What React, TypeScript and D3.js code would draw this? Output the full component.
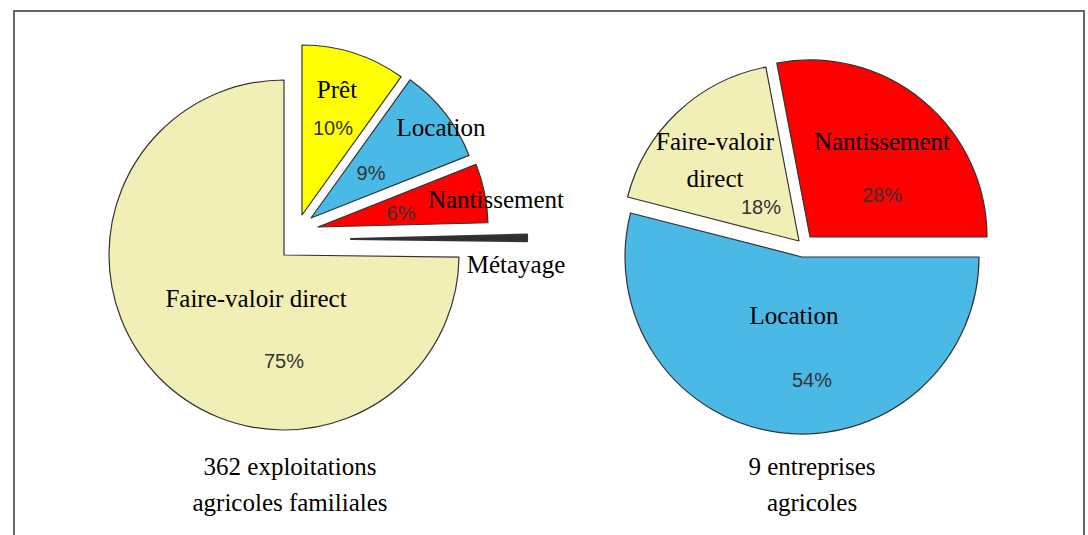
import React from "react";
import * as d3 from "d3";

// ---------- DATA ----------
const leftCategories = ["Prêt", "Location", "Nantissement", "Métayage", "Faire-valoir direct"];
const leftValues = [9.9, 9.1, 5.6, 0.6, 74.8];
const leftTitle = ["362 exploitations", "agricoles familiales"];

const rightCategories = ["Nantissement", "Location", "Faire-valoir direct"];
const rightValues = [28, 54, 18];
const rightTitle = ["9 entreprises", "agricoles"];

const colorByCategory: Record<string, string> = {
  "Faire-valoir direct": "#F2EFB6",
  "Prêt": "#FFFF00",
  "Location": "#4BB9E6",
  "Nantissement": "#FF0000",
  "Métayage": "#2E2E2E",
};

// ---------- LAYOUT ----------
const W = 1088;
const H = 535;

type SliceLayout = {
  dx: number; dy: number; r: number; sw?: number;
  name?: [number, number]; pct?: [number, number]; lines?: string[]; hidePct?: boolean;
};

const leftPie = {
  cx: 284, cy: 255, startDeg: 0, titleX: 290,
  slices: [
    { dx: 18, dy: -40, r: 170, name: [53, -157], pct: [49, -120] },
    { dx: 27, dy: -37, r: 170, name: [157, -119], pct: [87, -75] },
    { dx: 34, dy: -28, r: 170, name: [212, -47], pct: [117, -35] },
    { dx: 67, dy: -16, r: 176, sw: 2.2, name: [232, 18], hidePct: true },
    { dx: 0, dy: 0, r: 175, name: [-28, 52], pct: [0, 113] },
  ] as SliceLayout[],
};

const rightPie = {
  cx: 803, cy: 245, startDeg: -10.8, titleX: 812,
  slices: [
    { dx: 7, dy: -8, r: 177, name: [79, -95], pct: [79, -43] },
    { dx: -1, dy: 12, r: 177, name: [-9, 79], pct: [9, 142] },
    { dx: -4, dy: -4, r: 177, name: [-88, -95], pct: [-42, -31], lines: ["Faire-valoir", "direct"] },
  ] as SliceLayout[],
};

const serif = "'Liberation Serif', 'Times New Roman', serif";
const sans = "'Liberation Sans', Arial, sans-serif";

function Pie({ categories, values, layout, title }: {
  categories: string[]; values: number[]; layout: typeof leftPie; title: string[];
}) {
  const start = (layout.startDeg * Math.PI) / 180;
  const pie = d3.pie<number>().sort(null).startAngle(start).endAngle(start + 2 * Math.PI);
  const arcs = pie(values);
  const total = d3.sum(values);
  return (
    <g>
      {arcs.map((a, i) => {
        const s = layout.slices[i];
        const path = d3.arc<any>().innerRadius(0).outerRadius(s.r)(a as any) || "";
        return (
          <path
            key={"p" + i}
            d={path}
            transform={`translate(${layout.cx + s.dx},${layout.cy + s.dy})`}
            fill={colorByCategory[categories[i]]}
            stroke="#333"
            strokeWidth={s.sw ?? 1.2}
            strokeLinejoin="round"
          />
        );
      })}
      {arcs.map((a, i) => {
        const s = layout.slices[i];
        const lines = s.lines || [categories[i]];
        const pct = Math.round((values[i] / total) * 100) + "%";
        return (
          <g key={"t" + i}>
            {s.name && (
              <text
                x={layout.cx + s.name[0]}
                y={layout.cy + s.name[1]}
                textAnchor="middle"
                fontFamily={serif}
                fontSize={25}
                fill="#000"
              >
                {lines.map((ln, k) => (
                  <tspan key={k} x={layout.cx + s.name![0]} dy={k === 0 ? 0 : 37}>{ln}</tspan>
                ))}
              </text>
            )}
            {s.pct && !s.hidePct && (
              <text
                x={layout.cx + s.pct[0]}
                y={layout.cy + s.pct[1]}
                textAnchor="middle"
                fontFamily={sans}
                fontSize={20}
                fill="#333"
              >
                {pct}
              </text>
            )}
          </g>
        );
      })}
      <text x={layout.titleX} y={475} textAnchor="middle" fontFamily={serif} fontSize={25} fill="#000">
        {title.map((ln, k) => (
          <tspan key={k} x={layout.titleX} dy={k === 0 ? 0 : 36}>{ln}</tspan>
        ))}
      </text>
    </g>
  );
}

export default function App() {
  return (
    <svg
      width={W}
      height={H}
      viewBox={`0 0 ${W} ${H}`}
      style={{ position: "absolute", left: 0, top: 0, background: "#fff" }}
    >
      <rect x={0} y={0} width={W} height={H} fill="#fff" />
      <rect x={14} y={11} width={1070} height={540} fill="none" stroke="#666" strokeWidth={2} />
      <Pie categories={leftCategories} values={leftValues} layout={leftPie} title={leftTitle} />
      <Pie categories={rightCategories} values={rightValues} layout={rightPie} title={rightTitle} />
    </svg>
  );
}
